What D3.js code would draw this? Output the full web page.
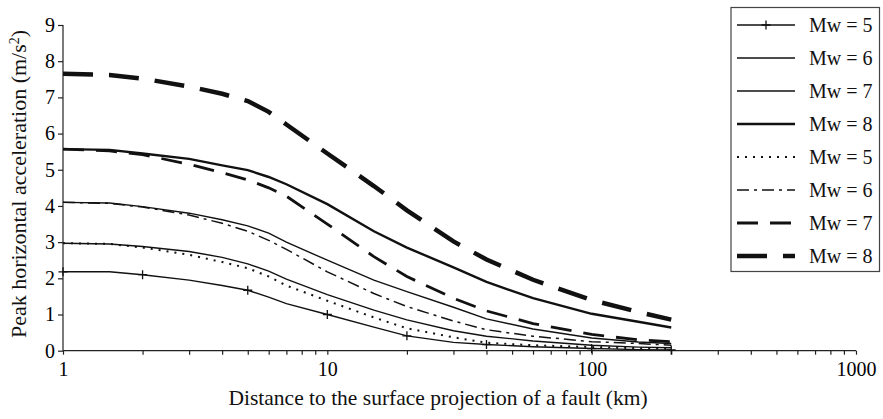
<!DOCTYPE html>
<html>
<head>
<meta charset="utf-8">
<script src="https://cdn.jsdelivr.net/npm/d3@7"></script>
<style>
    body { margin: 0; background: #fff; }
    svg { display: block; font-family: "Liberation Serif", "Times New Roman", serif; }
</style>
</head>
<body>
<div id="chart"></div>
<script>
// Distances (km) where the curves were read
var distances = [1, 1.5, 2, 3, 4, 5, 6, 7, 10, 15, 20, 30, 40, 60, 100, 150, 200];

// Peak horizontal acceleration (m/s2), one array per curve
var solidMw5 = [2.18, 2.18, 2.1, 1.95, 1.8, 1.67, 1.48, 1.3, 1.0, 0.65, 0.41, 0.23, 0.17, 0.11, 0.06, 0.03, 0.02];
var solidMw6 = [2.97, 2.95, 2.88, 2.74, 2.58, 2.4, 2.2, 1.98, 1.55, 1.12, 0.85, 0.55, 0.4, 0.27, 0.15, 0.1, 0.08];
var solidMw7 = [4.1, 4.08, 3.98, 3.8, 3.62, 3.45, 3.25, 3.0, 2.5, 1.95, 1.63, 1.2, 0.88, 0.6, 0.35, 0.24, 0.2];
var solidMw8 = [5.57, 5.55, 5.45, 5.3, 5.12, 4.99, 4.8, 4.6, 4.05, 3.3, 2.85, 2.3, 1.9, 1.45, 1.02, 0.8, 0.64];
var dottedMw5 = [2.97, 2.95, 2.85, 2.65, 2.45, 2.28, 2.05, 1.8, 1.38, 0.92, 0.62, 0.37, 0.22, 0.15, 0.1, 0.07, 0.05];
var dashDotMw6 = [4.1, 4.07, 3.97, 3.75, 3.52, 3.3, 3.05, 2.8, 2.18, 1.58, 1.22, 0.82, 0.58, 0.4, 0.25, 0.2, 0.15];
var dashedMw7 = [5.57, 5.52, 5.42, 5.15, 4.92, 4.72, 4.5, 4.27, 3.5, 2.6, 2.05, 1.45, 1.1, 0.75, 0.45, 0.3, 0.25];
var dashedMw8 = [7.65, 7.62, 7.52, 7.3, 7.1, 6.9, 6.6, 6.25, 5.45, 4.55, 3.88, 3.02, 2.52, 1.96, 1.4, 1.07, 0.86];

// Distances that carry a "+" marker on the Mw=5 solid curve
var markerDistances = [1, 2, 5, 10, 20, 40, 100, 200];

var legendLabels = ["Mw = 5", "Mw = 6", "Mw = 7", "Mw = 8", "Mw = 5", "Mw = 6", "Mw = 7", "Mw = 8"];
var xTickValues = [1, 10, 100, 1000];
var yTickValues = [0, 1, 2, 3, 4, 5, 6, 7, 8, 9];

var w = 883;
var h = 419;

// line look for each curve, same order as the legend
var curves = [
    { values: solidMw5, width: 1.4, dash: null },
    { values: solidMw6, width: 1.4, dash: null },
    { values: solidMw7, width: 1.4, dash: null },
    { values: solidMw8, width: 2.4, dash: null },
    { values: dottedMw5, width: 2, dash: "2,6" },
    { values: dashDotMw6, width: 1.5, dash: "12,5,3,5" },
    { values: dashedMw7, width: 2.8, dash: "21,12" },
    { values: dashedMw8, width: 4.5, dash: "30,16" }
];

var svg = d3.select("#chart")
    .append("svg")
    .attr("width", w)
    .attr("height", h);

// Scales
var xScale = d3.scaleLog()
    .domain([1, 1000])
    .range([63, 856]);

var yScale = d3.scaleLinear()
    .domain([0, 9])
    .range([350.7, 25]);

// x axis with minor ticks every unit inside each decade
var xMinor = [];
for (var dec = 1; dec < 1000; dec *= 10) {
    for (var k = 1; k < 10; k++) xMinor.push(dec * k);
}
xMinor.push(1000);

var xAxis = svg.append("g")
    .attr("transform", "translate(0," + yScale(0) + ")")
    .call(d3.axisBottom(xScale)
        .tickValues(xMinor)
        .tickSize(4)
        .tickFormat(function (d) {
            return xTickValues.indexOf(d) >= 0 ? d : "";
        }));
xAxis.select(".domain").attr("d", "M" + xScale(1) + ",0H" + xScale(1000));
xAxis.selectAll("text")
    .attr("y", 11)
    .attr("dy", "0.71em")
    .style("font-size", "20px")
    .style("font-family", "Liberation Serif");

var yAxis = svg.append("g")
    .attr("transform", "translate(" + xScale(1) + ",0)")
    .call(d3.axisLeft(yScale)
        .tickValues(yTickValues)
        .tickSize(5)
        .tickFormat(d3.format("d")));
yAxis.select(".domain").attr("d", "M0," + yScale(0) + "V" + yScale(9));
yAxis.selectAll("text")
    .attr("x", -8)
    .style("font-size", "20px")
    .style("font-family", "Liberation Serif");

svg.selectAll(".domain, .tick line")
    .attr("stroke", "#222")
    .attr("stroke-width", 1.2);

// Axis titles
svg.append("text")
    .attr("x", 438)
    .attr("y", 405)
    .attr("text-anchor", "middle")
    .style("font-size", "21.5px")
    .attr("fill", "#111")
    .text("Distance to the surface projection of a fault (km)");

var yTitle = svg.append("text")
    .attr("transform", "translate(26,184) rotate(-90)")
    .attr("text-anchor", "middle")
    .style("font-size", "22px")
    .attr("fill", "#111");
yTitle.append("tspan").text("Peak horizontal acceleration (m/s");
yTitle.append("tspan").attr("baseline-shift", "super").style("font-size", "14px").text("2");
yTitle.append("tspan").text(")");

// Curves
var line = d3.line()
    .x(function (d, i) { return xScale(distances[i]); })
    .y(function (d) { return yScale(d); });

svg.selectAll(".curve")
    .data(curves)
    .enter()
    .append("path")
    .attr("class", "curve")
    .attr("d", function (c) { return line(c.values); })
    .attr("fill", "none")
    .attr("stroke", "#111")
    .attr("stroke-width", function (c) { return c.width; })
    .attr("stroke-dasharray", function (c) { return c.dash; });

// "+" markers on the Mw=5 solid curve
function plusPath(cx, cy, r) {
    return "M" + (cx - r) + "," + cy + "H" + (cx + r) + "M" + cx + "," + (cy - r) + "V" + (cy + r);
}

svg.selectAll(".mark")
    .data(markerDistances)
    .enter()
    .append("path")
    .attr("class", "mark")
    .attr("d", function (d) {
        var v = solidMw5[distances.indexOf(d)];
        return plusPath(xScale(d), yScale(v), 4.5);
    })
    .attr("stroke", "#111")
    .attr("stroke-width", 1.3);

// Legend
var legend = svg.append("g");
legend.append("rect")
    .attr("x", 731)
    .attr("y", 7.5)
    .attr("width", 148.5)
    .attr("height", 264)
    .attr("fill", "#fff")
    .attr("stroke", "#444")
    .attr("stroke-width", 1.2);

var rows = legend.selectAll(".row")
    .data(curves)
    .enter()
    .append("g")
    .attr("class", "row")
    .attr("transform", function (c, i) { return "translate(0," + (25 + i * 33) + ")"; });

rows.append("line")
    .attr("x1", 737)
    .attr("x2", 795)
    .attr("stroke", "#111")
    .attr("stroke-width", function (c) { return c.width; })
    .attr("stroke-dasharray", function (c) { return c.dash; });

rows.filter(function (c, i) { return i === 0; })
    .append("path")
    .attr("d", plusPath(766, 0, 4.5))
    .attr("stroke", "#111")
    .attr("stroke-width", 1.3);

rows.append("text")
    .attr("x", 809)
    .attr("dy", "0.35em")
    .style("font-size", "20px")
    .attr("fill", "#111")
    .text(function (c, i) { return legendLabels[i]; });
</script>
</body>
</html>
